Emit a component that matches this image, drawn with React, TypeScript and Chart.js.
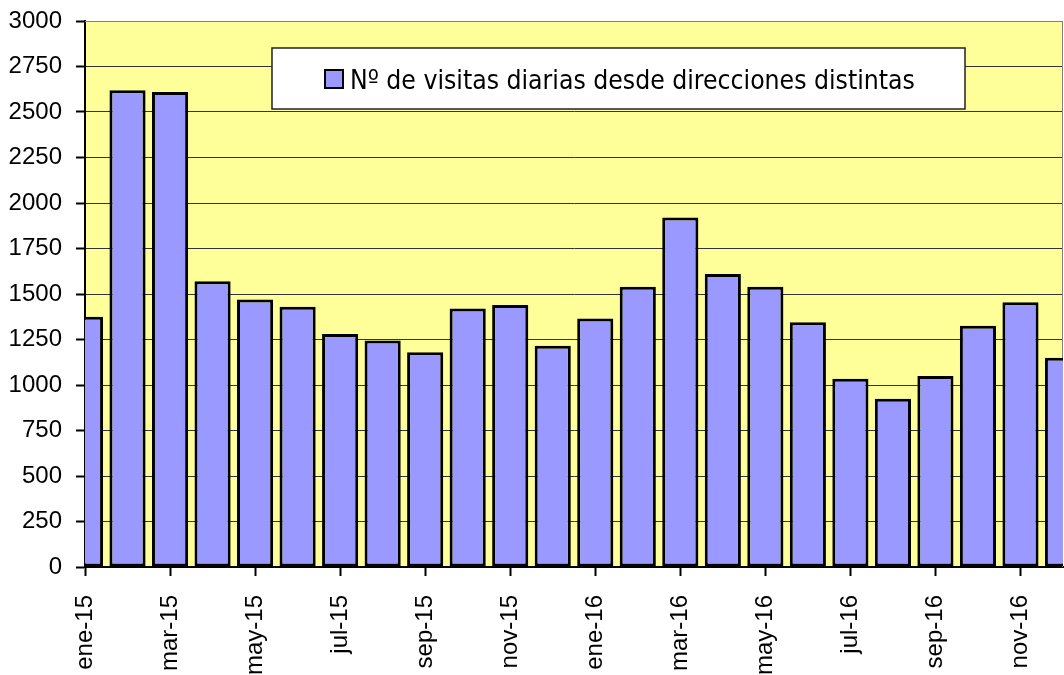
import React, { useEffect, useRef } from 'react';
import { Chart, registerables } from 'chart.js';

Chart.register(...registerables);

const months = [
  'ene-15', 'feb-15', 'mar-15', 'abr-15', 'may-15', 'jun-15',
  'jul-15', 'ago-15', 'sep-15', 'oct-15', 'nov-15', 'dic-15',
  'ene-16', 'feb-16', 'mar-16', 'abr-16', 'may-16', 'jun-16',
  'jul-16', 'ago-16', 'sep-16', 'oct-16', 'nov-16', 'dic-16',
];
const visits = [
  1375, 2620, 2610, 1570, 1470, 1430,
  1280, 1245, 1180, 1420, 1440, 1215,
  1365, 1540, 1920, 1610, 1540, 1345,
  1035, 925, 1050, 1325, 1455, 1150,
];
const seriesLabel = 'Nº de visitas diarias desde direcciones distintas';
const yMin = 0;
const yMax = 3000;
const yStep = 250;
const monthStep = 2;

const TICK_FONT = "'Liberation Sans', Arial, sans-serif";
const LEGEND_FONT = "'DejaVu Sans Condensed', 'DejaVu Sans', sans-serif";
const BAR_FILL = '#9999FF';
const PLOT_BG = '#FFFF99';

const plotBackground = {
  id: 'plotBackground',
  beforeDraw(chart: any) {
    const { ctx, chartArea: a } = chart;
    ctx.save();
    ctx.fillStyle = PLOT_BG;
    ctx.fillRect(a.left, a.top, a.right - a.left, a.bottom - a.top);
    ctx.restore();
  },
  beforeDatasetsDraw(chart: any) {
    const { ctx, chartArea: a } = chart;
    ctx.save();
    ctx.strokeStyle = '#808080';
    ctx.lineWidth = 1;
    ctx.beginPath();
    ctx.moveTo(a.left, a.top + 0.5);
    ctx.lineTo(a.right - 0.5, a.top + 0.5);
    ctx.lineTo(a.right - 0.5, a.bottom);
    ctx.stroke();
    ctx.restore();
  },
};

const boxLegend = {
  id: 'boxLegend',
  afterDatasetsDraw(chart: any) {
    const { ctx, chartArea: a } = chart;
    const ds = chart.data.datasets[0];
    const bx = a.left + 187;
    const by = a.top + 27;
    const bw = 693;
    const bh = 61;
    ctx.save();
    ctx.fillStyle = '#FFFFFF';
    ctx.fillRect(bx, by, bw, bh);
    ctx.strokeStyle = '#222';
    ctx.lineWidth = 1.5;
    ctx.strokeRect(bx, by, bw, bh);
    const sx = bx + 53;
    const sy = by + 22;
    ctx.fillStyle = ds.backgroundColor;
    ctx.fillRect(sx, sy, 18, 18);
    ctx.strokeStyle = '#000';
    ctx.lineWidth = 2;
    ctx.strokeRect(sx, sy, 18, 18);
    ctx.fillStyle = '#000';
    ctx.font = `26.3px ${LEGEND_FONT}`;
    ctx.textBaseline = 'alphabetic';
    ctx.textAlign = 'left';
    ctx.fillText(ds.label, sx + 25, by + 41);
    ctx.restore();
  },
};

export default function App() {
  const ref = useRef<HTMLCanvasElement | null>(null);

  useEffect(() => {
    if (!ref.current) return;
    const chart = new Chart(ref.current, {
      type: 'bar',
      data: {
        datasets: [
          {
            label: seriesLabel,
            data: visits.map((v, i) => ({ x: i, y: v })),
            backgroundColor: BAR_FILL,
            borderColor: '#000000',
            borderWidth: 3,
            borderSkipped: false,
            barPercentage: 0.85,
            categoryPercentage: 1,
            clip: 0,
          } as any,
        ],
      },
      options: {
        animation: false,
        responsive: false,
        layout: { padding: { top: 21, right: 1, left: 0, bottom: 0 } },
        plugins: {
          legend: { display: false },
          tooltip: { enabled: false },
        },
        scales: {
          x: {
            type: 'linear',
            min: 0,
            max: months.length - 1,
            offset: false,
            grid: {
              offset: false,
              drawOnChartArea: false,
              drawTicks: true,
              tickLength: 9,
              tickColor: '#000',
              tickWidth: 2,
            },
            border: { display: true, color: '#000', width: 2 },
            ticks: {
              stepSize: monthStep,
              includeBounds: false,
              autoSkip: false,
              minRotation: 90,
              maxRotation: 90,
              padding: 19,
              color: '#000',
              font: { family: TICK_FONT, size: 24 },
              callback: (v: any) => months[Number(v)] ?? '',
            },
            afterFit: (s: any) => {
              s.height = 108;
              s.paddingLeft = 0;
              s.paddingRight = 0;
              s.paddingTop = 0;
              s.paddingBottom = 0;
            },
          },
          y: {
            type: 'linear',
            min: yMin,
            max: yMax,
            grid: {
              color: (c: any) => (c.tick && c.tick.value === yMax ? '#808080' : '#333333'),
              lineWidth: 1,
              drawTicks: true,
              tickLength: 9,
              tickColor: '#000',
              tickWidth: 2,
            },
            border: { display: true, color: '#000', width: 2 },
            ticks: {
              stepSize: yStep,
              padding: 14,
              color: '#000',
              font: { family: TICK_FONT, size: 24 },
              callback: (v: any) => String(v),
            },
            afterFit: (s: any) => {
              s.width = 85;
              s.paddingLeft = 0;
              s.paddingRight = 0;
              s.paddingTop = 0;
              s.paddingBottom = 0;
            },
          },
        },
      },
      plugins: [plotBackground, boxLegend],
    });
    return () => chart.destroy();
  }, []);

  return (
    <div style={{ position: 'fixed', left: 0, top: 0, width: 1064, height: 675, background: '#fff' }}>
      <canvas ref={ref} width={1064} height={675} style={{ display: 'block' }} />
    </div>
  );
}
